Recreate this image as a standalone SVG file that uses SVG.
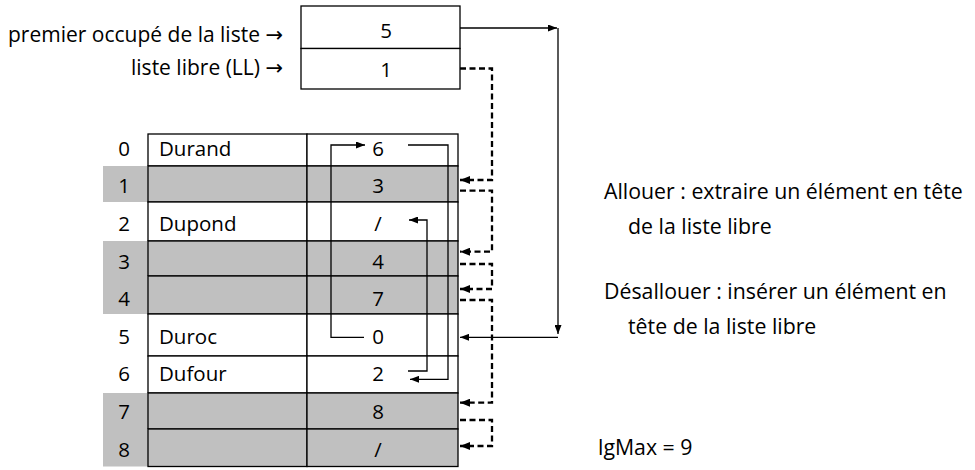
<svg xmlns="http://www.w3.org/2000/svg" width="975" height="470" viewBox="0 0 975 470">
<style>
  text { font-family: "Open Sans", "Noto Sans", "DejaVu Sans", sans-serif; font-size: 20.5px; fill: #000; }
  .c { text-anchor: middle; }
  .r { text-anchor: end; font-size: 21px; }
  .n { font-size: 21.3px; }
  .w { fill: #fff; stroke: #000; stroke-width: 1.3; }
  .g { fill: #c0c0c0; stroke: #000; stroke-width: 1.3; }
  .gb { fill: #c0c0c0; stroke: none; }
  .ln { fill: none; stroke: #000; stroke-width: 1.3; }
  .ds { fill: none; stroke: #000; stroke-width: 2.3; stroke-dasharray: 6 3.5; }
</style>
<defs>
  <marker id="a" markerUnits="userSpaceOnUse" markerWidth="9" markerHeight="7" refX="9" refY="3.5" orient="auto">
    <path d="M0,0 L9,3.5 L0,7 z" fill="#000"/>
  </marker>
  <marker id="ad" markerUnits="userSpaceOnUse" markerWidth="10" markerHeight="8" refX="10" refY="4" orient="auto">
    <path d="M0,0 L10,4 L0,8 z" fill="#000"/>
  </marker>
</defs>

<g id="labels">
  <text class="r" x="283" y="42">premier occupé de la liste →</text>
  <text class="r" x="283" y="75">liste libre (LL) →</text>
</g>

<g id="head">
  <rect class="w" x="301" y="6" width="159" height="42.5"/>
  <rect class="w" x="301" y="48.5" width="159" height="40.5"/>
  <text class="c" x="386" y="38">5</text>
  <text class="c" x="386" y="77">1</text>
</g>

<g id="row0">
  <rect class="w" x="148" y="134" width="159" height="32"/>
  <rect class="w" x="307" y="134" width="151" height="32"/>
  <text class="c" x="124" y="155.7">0</text>
  <text x="159" y="155.7">Durand</text>
  <text class="c" x="378" y="155.7">6</text>
</g>
<g id="row1">
  <rect class="gb" x="103" y="166" width="45" height="36"/>
  <rect class="g" x="148" y="166" width="159" height="36"/>
  <rect class="g" x="307" y="166" width="151" height="36"/>
  <text class="c" x="124" y="193.3">1</text>
  <text class="c" x="378" y="193.3">3</text>
</g>
<g id="row2">
  <rect class="w" x="148" y="202" width="159" height="39"/>
  <rect class="w" x="307" y="202" width="151" height="39"/>
  <text class="c" x="124" y="230.9">2</text>
  <text x="159" y="230.9">Dupond</text>
  <text class="c" x="378" y="230.9">/</text>
</g>
<g id="row3">
  <rect class="gb" x="103" y="241" width="45" height="35"/>
  <rect class="g" x="148" y="241" width="159" height="35"/>
  <rect class="g" x="307" y="241" width="151" height="35"/>
  <text class="c" x="124" y="268.5">3</text>
  <text class="c" x="378" y="268.5">4</text>
</g>
<g id="row4">
  <rect class="gb" x="103" y="276" width="45" height="38"/>
  <rect class="g" x="148" y="276" width="159" height="38"/>
  <rect class="g" x="307" y="276" width="151" height="38"/>
  <text class="c" x="124" y="306.1">4</text>
  <text class="c" x="378" y="306.1">7</text>
</g>
<g id="row5">
  <rect class="w" x="148" y="314" width="159" height="42"/>
  <rect class="w" x="307" y="314" width="151" height="42"/>
  <text class="c" x="124" y="343.7">5</text>
  <text x="159" y="343.7">Duroc</text>
  <text class="c" x="378" y="343.7">0</text>
</g>
<g id="row6">
  <rect class="w" x="148" y="356" width="159" height="37"/>
  <rect class="w" x="307" y="356" width="151" height="37"/>
  <text class="c" x="124" y="381.3">6</text>
  <text x="159" y="381.3">Dufour</text>
  <text class="c" x="378" y="381.3">2</text>
</g>
<g id="row7">
  <rect class="gb" x="103" y="393" width="45" height="36"/>
  <rect class="g" x="148" y="393" width="159" height="36"/>
  <rect class="g" x="307" y="393" width="151" height="36"/>
  <text class="c" x="124" y="418.9">7</text>
  <text class="c" x="378" y="418.9">8</text>
</g>
<g id="row8">
  <rect class="gb" x="103" y="429" width="45" height="37.5"/>
  <rect class="g" x="148" y="429" width="159" height="37.5"/>
  <rect class="g" x="307" y="429" width="151" height="37.5"/>
  <text class="c" x="124" y="456.5">8</text>
  <text class="c" x="378" y="456.5">/</text>
</g>

<g id="connectors">
  <path class="ln" d="M460,28 H557" marker-end="url(#a)"/>
  <path class="ln" d="M558,28 V334" marker-end="url(#a)"/>
  <path class="ln" d="M558,337.3 H460" marker-end="url(#a)"/>
  <path class="ln" d="M408,145 H448 V379.3 H410" marker-end="url(#a)"/>
  <path class="ln" d="M408,371 H427 V220 H409" marker-end="url(#a)"/>
  <path class="ln" d="M364,337.3 H331 V145 H365" marker-end="url(#a)"/>
  <path class="ds" d="M460,68.5 H492 V180 H460" marker-end="url(#ad)"/>
  <path class="ds" d="M460,190.7 H492 V251.7 H460" marker-end="url(#ad)"/>
  <path class="ds" d="M460,264 H492 V289 H460" marker-end="url(#ad)"/>
  <path class="ds" d="M460,300 H492 V402.7 H460" marker-end="url(#ad)"/>
  <path class="ds" d="M460,420 H492 V446 H460" marker-end="url(#ad)"/>
</g>

<g id="notes">
  <text class="n" x="604" y="199">Allouer : extraire un élément en tête</text>
  <text class="n" x="628" y="234">de la liste libre</text>
  <text class="n" x="604" y="299">Désallouer : insérer un élément en</text>
  <text class="n" x="628" y="334">tête de la liste libre</text>
  <text class="n" x="598" y="455">lgMax = 9</text>
</g>
</svg>
